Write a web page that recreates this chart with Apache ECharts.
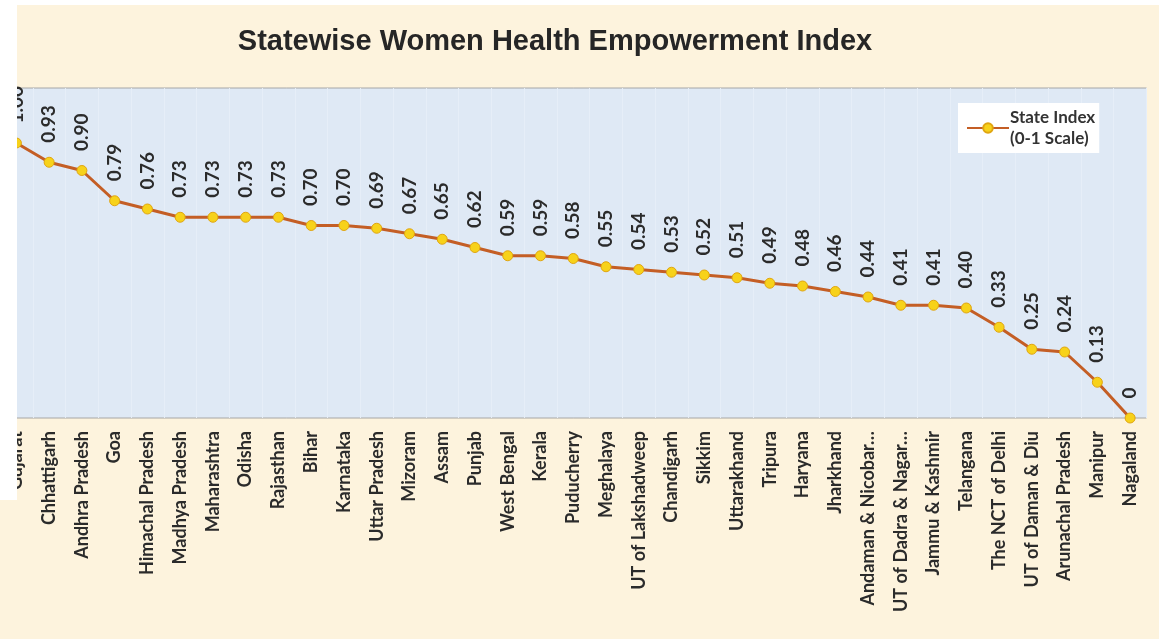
<!DOCTYPE html>
<html>
<head>
<meta charset="utf-8">
<script src="https://cdn.jsdelivr.net/npm/echarts@6/dist/echarts.min.js"></script>
<style>
  html, body { margin: 0; padding: 0; background: #fdf3dd; }
  #chart { width: 1159px; height: 639px; }
</style>
</head>
<body>
<div id="chart"></div>
<script>
// States, ordered by index value
const states = [
  'Gujarat', 'Chhattigarh', 'Andhra Pradesh', 'Goa', 'Himachal Pradesh', 'Madhya Pradesh',
  'Maharashtra', 'Odisha', 'Rajasthan', 'Bihar', 'Karnataka', 'Uttar Pradesh', 'Mizoram',
  'Assam', 'Punjab', 'West Bengal', 'Kerala', 'Puducherry', 'Meghalaya', 'UT of Lakshadweep',
  'Chandigarh', 'Sikkim', 'Uttarakhand', 'Tripura', 'Haryana', 'Jharkhand',
  'Andaman & Nicobar…', 'UT of Dadra & Nagar…', 'Jammu & Kashmir', 'Telangana',
  'The NCT of Delhi', 'UT of Daman & Diu', 'Arunachal Pradesh', 'Manipur', 'Nagaland'
];

// State index on a 0-1 scale
const stateIndex = [
  1.00, 0.93, 0.90, 0.79, 0.76, 0.73, 0.73, 0.73, 0.73, 0.70, 0.70, 0.69, 0.67,
  0.65, 0.62, 0.59, 0.59, 0.58, 0.55, 0.54, 0.53, 0.52, 0.51, 0.49, 0.48, 0.46,
  0.44, 0.41, 0.41, 0.40, 0.33, 0.25, 0.24, 0.13, 0
];

const seriesName = 'State Index\n(0-1 Scale)';

const chart = echarts.init(document.getElementById('chart'));
chart.setOption({
  backgroundColor: '#fdf3dd',
  animation: false,
  title: {
    text: 'Statewise Women Health Empowerment Index',
    left: 550,
    textAlign: 'center',
    top: 22,
    textStyle: {
      fontFamily: 'Liberation Sans',
      fontWeight: 'bold',
      fontSize: 29,
      color: '#262626'
    }
  },
  legend: {
    data: [seriesName],
    left: 958,
    top: 103,
    backgroundColor: '#ffffff',
    padding: [4, 4, 4, 8],
    itemWidth: 42,
    itemHeight: 12,
    itemGap: 4,
    textStyle: {
      fontFamily: 'Lato',
      fontWeight: 'bold',
      fontSize: 17,
      color: '#333333',
      lineHeight: 21,
      padding: [0, 0, 0, -4]
    }
  },
  grid: {
    left: -4.3,
    right: 12.5,
    top: 88,
    bottom: 221,
    show: true,
    backgroundColor: '#dfe9f5',
    borderColor: '#a6a6a6',
    borderWidth: 1
  },
  xAxis: {
    type: 'category',
    data: states,
    boundaryGap: true,
    axisLine: { show: false },
    axisTick: { show: false },
    splitLine: { show: true, lineStyle: { color: '#e6eef8', width: 1 } },
    axisLabel: {
      rotate: 90,
      interval: 0,
      margin: 13,
      fontFamily: 'Lato',
      fontWeight: 'bold',
      fontSize: 18,
      color: '#2b2b2b'
    }
  },
  yAxis: {
    type: 'value',
    min: 0,
    max: 1.2,
    interval: 0.2,
    axisLine: { show: false },
    axisTick: { show: false },
    axisLabel: { show: false },
    splitLine: { show: false }
  },
  series: [{
    name: seriesName,
    type: 'line',
    data: stateIndex,
    symbol: 'circle',
    symbolSize: 10,
    lineStyle: { color: '#c45e25', width: 3 },
    itemStyle: { color: '#f7d21a', borderColor: '#e0a510', borderWidth: 1 },
    label: {
      show: true,
      position: 'top',
      rotate: 90,
      distance: 14,
      align: 'left',
      verticalAlign: 'middle',
      fontFamily: 'Lato',
      fontWeight: 'bold',
      fontSize: 19,
      color: '#2b2b2b',
      formatter: p => (p.value === 0 ? '0' : p.value.toFixed(2))
    }
  }],
  // white margin strips along the top and left edge
  graphic: [
    { type: 'rect', zlevel: 1, shape: { x: 0, y: 0, width: 17, height: 500 }, style: { fill: '#ffffff' } },
    { type: 'rect', zlevel: 1, shape: { x: 0, y: 0, width: 1159, height: 5 }, style: { fill: '#ffffff' } }
  ]
});
</script>
</body>
</html>
